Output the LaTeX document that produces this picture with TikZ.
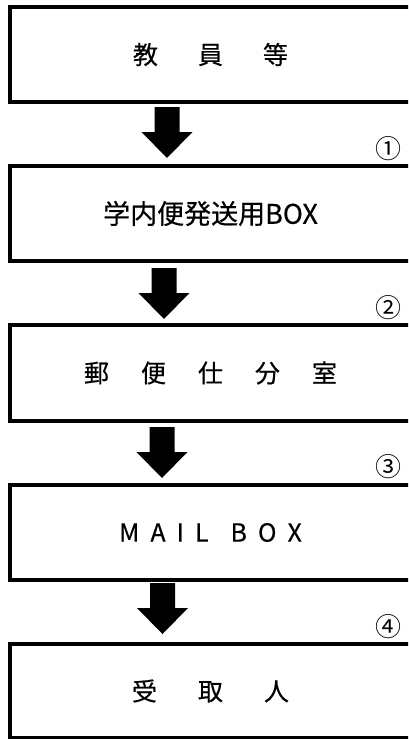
\documentclass[tikz,border=0pt]{standalone}
\usepackage{fontspec}
\setmainfont{Noto Sans CJK JP}[FakeBold=0.4]
\newfontfamily\numfont{Noto Sans CJK JP}
\begin{document}
\begin{tikzpicture}[x=1pt,y=-1pt,
  box/.style={draw, line width=4pt, minimum width=401pt, anchor=north west,
    inner sep=0pt, outer sep=0pt, font=\fontsize{25pt}{28pt}\selectfont},
  num/.style={anchor=east, inner sep=0pt, font=\numfont\fontsize{26pt}{28pt}\selectfont},
  blockarrow/.pic={\fill (-12.5,0) -- (12.5,0) -- (12.5,25) -- (25.5,25) -- (0,51) -- (-25.5,25) -- (-12.5,25) -- cycle;}]
\useasboundingbox (0,0) rectangle (408,739);
\clip (0,0) rectangle (408,739);
\node[box, minimum height=95pt] (b1) at (10,7)
  {教\hspace{40pt}員\hspace{40pt}等};
\node[box, minimum height=95pt] (b2) at (10,166)
  {\fontsize{27pt}{30pt}\selectfont 学内便発送用BOX};
\node[box, minimum height=96pt] (b3) at (10,325)
  {郵\hspace{32pt}便\hspace{32pt}仕\hspace{32pt}分\hspace{32pt}室};
\node[box, minimum height=95pt] (b4) at (10,485)
  {M\hspace{11pt}A\hspace{11pt}I\hspace{11pt}L\hspace{22pt}B\hspace{11pt}O\hspace{11pt}X};
\node[box, minimum height=94pt] (b5) at (10,644)
  {受\hspace{41pt}取\hspace{41pt}人};
\pic (a1) at (167,107) {blockarrow};
\pic (a2) at (164,268) {blockarrow};
\pic (a3) at (162,427) {blockarrow};
\pic (a4) at (162.5,583) {blockarrow};
\node[num] (n1) at (402,148.5) {①};
\node[num] (n2) at (402,308) {②};
\node[num] (n3) at (402,467) {③};
\node[num] (n4) at (402,627) {④};
\end{tikzpicture}
\end{document}
